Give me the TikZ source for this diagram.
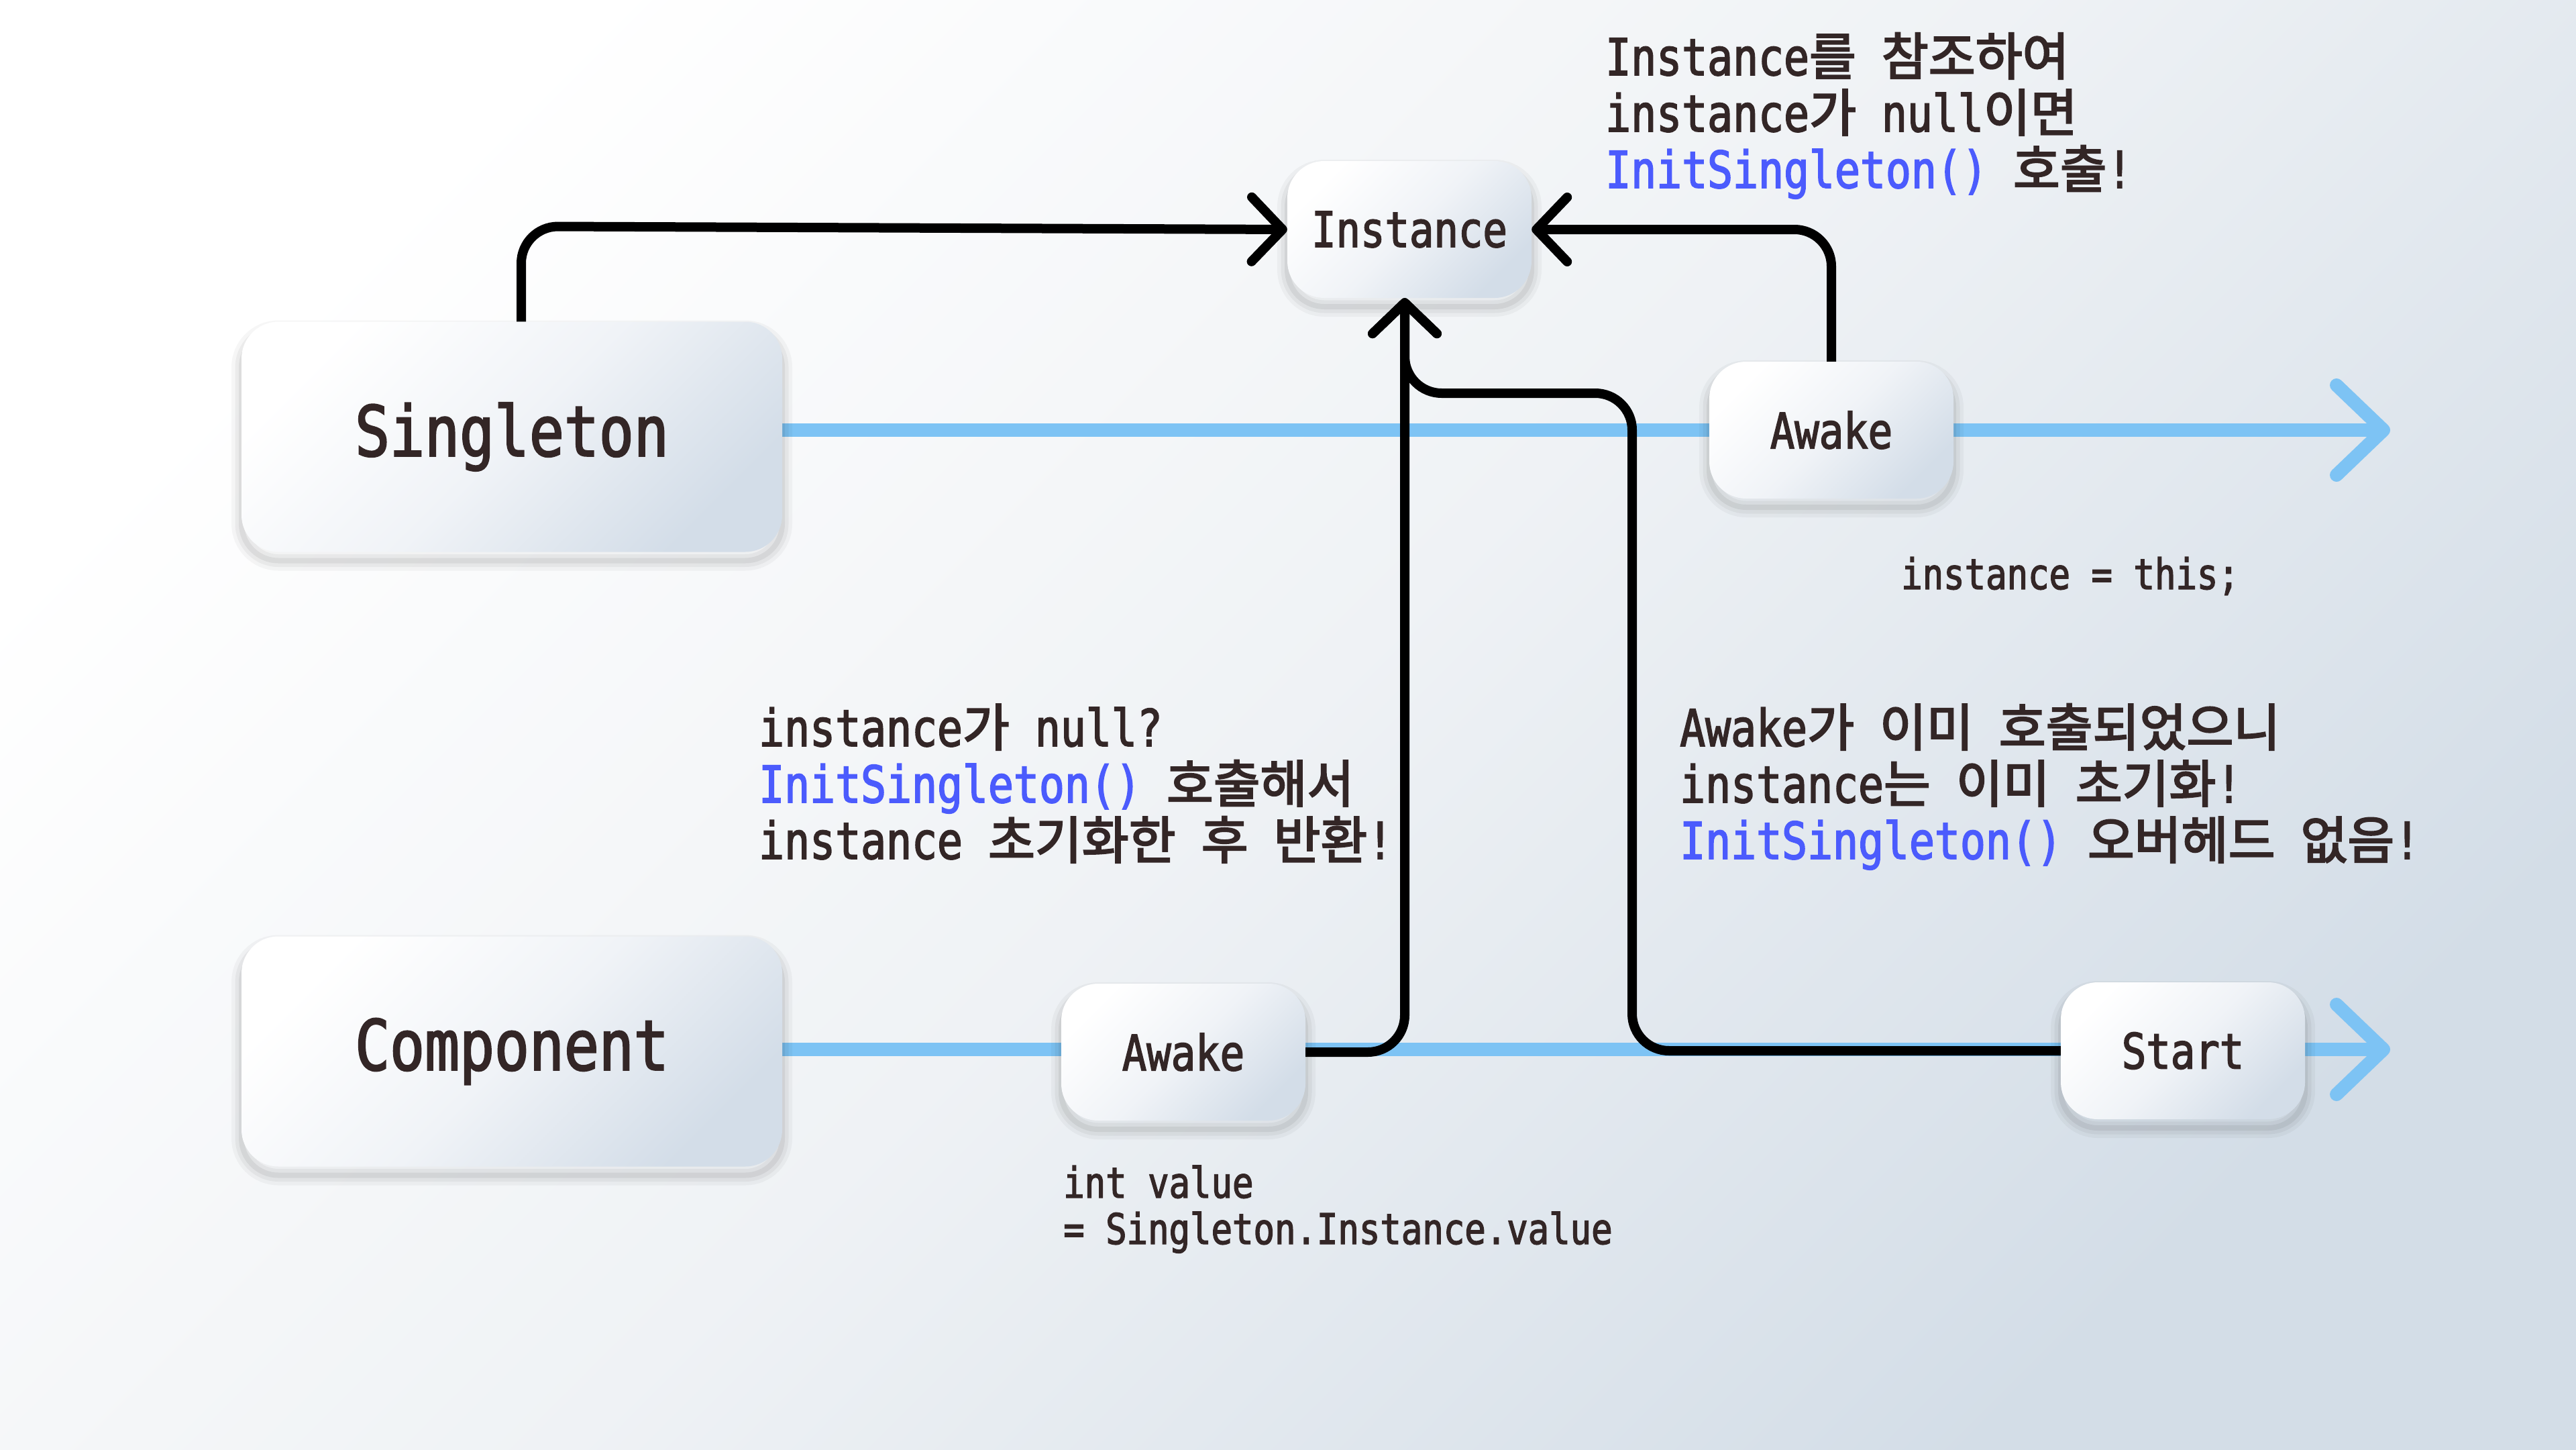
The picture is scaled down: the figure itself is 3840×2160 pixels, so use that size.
\documentclass[tikz,border=0pt]{standalone}
\usepackage{fontspec}
\setmainfont[FakeStretch=0.83,FakeBold=2.2]{DejaVu Sans Mono}
\newfontfamily\krfont[FakeBold=3]{Noto Sans CJK KR}
\newcommand\K[1]{{\krfont #1}}
\usetikzlibrary{arrows.meta,shadows}
\definecolor{txt}{HTML}{332626}
\definecolor{codeblue}{HTML}{4B5BFD}
\definecolor{flow}{HTML}{7DC3F4}
\definecolor{bgB}{HTML}{D3DDE7}
\definecolor{bgM}{HTML}{EFF2F5}
\definecolor{boxB}{HTML}{D3DDE8}
\definecolor{boxM}{HTML}{F0F3F7}
\pgfdeclarelayer{bglayer}
\pgfdeclarelayer{flowlayer}
\pgfsetlayers{bglayer,flowlayer,main}
\begin{document}
\begin{tikzpicture}[x=1pt,y=-1pt,
  box/.style={rounded corners=55pt,
    general shadow={draw=black, draw opacity=0.035, line width=30pt, shadow yshift=-13pt},
    general shadow={draw=black, draw opacity=0.045, line width=19pt, shadow yshift=-13pt},
    general shadow={draw=black, draw opacity=0.06, line width=8pt, shadow yshift=-13pt},
    top color=white, bottom color=boxB, middle color=boxM, shading angle=45,
    text=txt, inner sep=0pt},
  bigbox/.style={box, minimum width=806pt, minimum height=343pt, font=\fontsize{104}{110}\selectfont},
  smallbox/.style={box, minimum width=364pt, minimum height=204pt, font=\fontsize{73}{80}\selectfont},
  note/.style={anchor=base west, inner sep=0pt, text=txt, font=\fontsize{76}{84}\selectfont},
  code/.style={anchor=base west, inner sep=0pt, text=txt, font=\fontsize{63}{68}\selectfont},
  flowline/.style={draw=flow, line width=20pt, -{Straight Barb[length=70pt,width=134pt,round]}},
  conn/.style={draw=black, line width=14pt, rounded corners=55pt},
  tip/.style={-{Straight Barb[length=46pt,width=96pt,round]}},
]
\useasboundingbox (0,0) rectangle (3840,2160);
\begin{pgfonlayer}{bglayer}
\shade[top color=white, bottom color=bgB, middle color=bgM, shading angle=45] (0,0) rectangle (3840,2160);
\end{pgfonlayer}

% nodes
\node[bigbox] (Singleton) at (763,651) {Singleton};
\node[bigbox] (Component) at (763,1567) {Component};
\node[smallbox] (Instance) at (2101,342) {Instance};
\node[smallbox] (AwakeS) at (2730,641) {Awake};
\node[smallbox] (AwakeC) at (1764,1568) {Awake};
\node[smallbox] (Start) at (3254,1566) {Start};

% timelines
\coordinate (endS) at (3563,641);
\coordinate (endC) at (3563,1564);
\begin{pgfonlayer}{flowlayer}
\draw[flowline] (Singleton.east |- endS) -- (endS);
\draw[flowline] (Component.east |- endC) -- (endC);
\end{pgfonlayer}

% connectors
\coordinate (sTop) at ([xshift=14pt]Singleton.north);
\coordinate (iIn) at ([xshift=-7pt]Instance.south);
\coordinate (dTurn) at (2433,586);
\draw[conn,tip] (sTop) -- ++(0,-142) -- (Instance.west);
\draw[conn,tip] (AwakeS.north) |- (Instance.east);
\draw[conn,tip] (AwakeC.east) -| (iIn);
\draw[conn,tip] (Start.west) -| (dTurn) -| (iIn);

% notes
\node[note] (n1a) at (2393,112) {Instance\K{를} \K{참조하여}};
\node[note] (n1b) at (2393,196) {instance\K{가} null\K{이면}};
\node[note] (n1c) at (2393,280) {\textcolor{codeblue}{InitSingleton()} \K{호출}!};

\node[note] (n2a) at (1131,1112) {instance\K{가} null?};
\node[note] (n2b) at (1131,1196) {\textcolor{codeblue}{InitSingleton()} \K{호출해서}};
\node[note] (n2c) at (1131,1280) {instance \K{초기화한} \K{후} \K{반환}!};

\node[note] (n3a) at (2504,1112) {Awake\K{가} \K{이미} \K{호출되었으니}};
\node[note] (n3b) at (2504,1196) {instance\K{는} \K{이미} \K{초기화}!};
\node[note] (n3c) at (2504,1280) {\textcolor{codeblue}{InitSingleton()} \K{오버헤드} \K{없음}!};

\node[code] (c1) at (2834,878) {instance = this;};
\node[code] (c2a) at (1585,1785) {int value};
\node[code] (c2b) at (1585,1854) {= Singleton.Instance.value};
\end{tikzpicture}
\end{document}
